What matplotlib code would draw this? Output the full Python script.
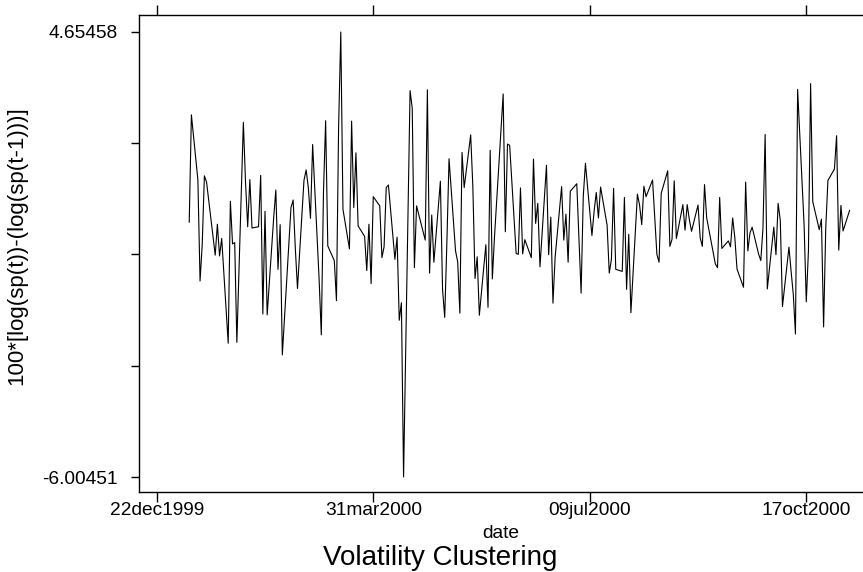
import numpy as np
import pandas as pd
import matplotlib
matplotlib.use("Agg")
import matplotlib.pyplot as plt
import matplotlib.dates as mdates

plt.rcParams['font.family'] = ['Liberation Sans', 'DejaVu Sans']

# 100*[log(sp(t)) - log(sp(t-1))], daily, 06jan2000 .. 06nov2000
r_jan = [0.10, 2.67, 1.11, -1.31, -0.44, 1.21, 1.06, -0.69, 0.05, -0.71, -0.29,
         -2.80, 0.60, -0.42, -0.39, -2.78, 2.49]
r_feb = [1.06, -0.01, 1.12, -0.04, -0.01, 1.22, -2.10, 0.36, -2.12, 0.20, 0.87,
         -1.03, 0.04, -3.08, 0.45, 0.63, -0.53, -1.49, 1.10, 1.35]
r_mar = [0.93, 0.19, 1.96, -1.28, -2.60, 0.81, 2.53, -0.47, -0.82, -1.78, 2.40,
         4.65458, 0.41, -0.54, 2.52, 0.45, 1.76, 0.01, -0.24, -1.06, 0.05, -1.37, 0.71]
r_apr = [0.49, -0.75, -0.49, 0.93, 0.99, -0.79, -0.26, -2.25, -1.83, -6.00451,
         3.25, 2.83, -0.99, 0.49, -0.33, 3.27, -1.12, 0.27, -0.86]
r_may = [1.08, -1.51, -2.18, -0.39, 1.62, -0.59, -0.85, -2.08, 1.77, 0.93, 2.19,
         0.94, -1.25, -0.73, -2.13, -0.44, -1.94, 1.82, -1.26, -0.25, 3.17, -0.13]
r_jun = [1.97, 1.94, -0.65, -0.67, 0.92, -0.66, -0.32, -0.75, 1.61, 0.07, 0.55,
         -0.97, 1.46, -0.68, 0.22, -1.84, -0.74, 0.95, -0.33, 0.29, -0.86, 0.84]
r_jul = [1.02, -1.60, 0.72, 1.51, -0.22, 0.36, 0.81, 0.20, 0.94, 0.03, -1.12,
         -0.79, 0.91, -1.03, -1.08, 0.69, -1.51, -0.19, -2.07, 0.77]
r_aug = [0.51, 0.04, 0.96, 0.71, 1.11, 0.23, -0.67, -0.86, 0.79, 1.33, -0.48,
         -0.31, 1.09, -0.29, 0.52, -0.09, 0.52, 0.16, -0.12, 0.51, -0.28, -0.48, 1.00]
r_sep = [0.20, -0.90, -0.99, 0.69, -0.53, -0.35, -0.49, 0.20, -0.27, -1.02,
         -1.46, 1.06, -0.59, -0.16, -0.02, -0.67, -0.82, -0.04, 2.20, -1.50]
r_oct = [-0.02, -0.68, 0.55, 0.14, -1.92, -0.50, -1.08, -1.63, -2.58, 3.28, 0.03,
         -1.81, -0.58, 3.42, 0.59, -0.08, 0.17, -2.41, -0.03, 1.10, 1.37, 2.17]
r_nov = [-0.57, 0.50, -0.11, 0.38]

holidays = ['2000-01-17', '2000-02-21', '2000-04-21', '2000-05-29',
            '2000-07-04', '2000-09-04']
dates = pd.bdate_range('2000-01-06', '2000-11-06', freq='C', holidays=holidays)

ret = r_jan + r_feb + r_mar + r_apr + r_may + r_jun + r_jul + r_aug + r_sep + r_oct + r_nov
assert len(ret) == len(dates)

xtick_dates = ['1999-12-22', '2000-03-31', '2000-07-09', '2000-10-17']
xtick_labels = ['22dec1999', '31mar2000', '09jul2000', '17oct2000']
ymin, ymax = -6.00451, 4.65458
ytick_labels = ['-6.00451', '', '', '', '4.65458']

fig = plt.figure(figsize=(8.63, 5.72), dpi=100)
ax = fig.add_axes([139 / 863, 80.3 / 572, 724 / 863, 476.7 / 572])

ax.plot(dates, ret, color='black', linewidth=0.8)

x0 = mdates.date2num(pd.Timestamp('1999-12-22'))
ax.set_xlim(x0 - 8.2, x0 + 326.2)
ax.set_ylim(ymin - 0.352, ymax + 0.407)

ax.set_yticks(np.linspace(ymin, ymax, 5))
ax.set_yticklabels(ytick_labels)
ax.set_xticks(pd.to_datetime(xtick_dates))
ax.set_xticklabels(xtick_labels)

ax.spines['right'].set_visible(False)
for s in ['left', 'top', 'bottom']:
    ax.spines[s].set_linewidth(1.0)
ax.tick_params(axis='x', which='major', direction='out', length=7, width=1.0,
               labelsize=13.8, pad=0.5, top=True, labeltop=False)
ax.tick_params(axis='y', which='major', direction='out', length=5.5, width=1.0,
               labelsize=13.8, pad=10)

fig.text(17 / 863, 1 - 246 / 572, '100*[log(sp(t))-(log(sp(t-1)))]',
         rotation=90, ha='center', va='center', fontsize=16)
fig.text(501 / 863, 1 - 538 / 572, 'date', ha='center', va='baseline', fontsize=13.8)
fig.text(440 / 863, 1 - 565 / 572, 'Volatility Clustering', ha='center',
         va='baseline', fontsize=20)

fig.savefig('out.png', dpi=100)
